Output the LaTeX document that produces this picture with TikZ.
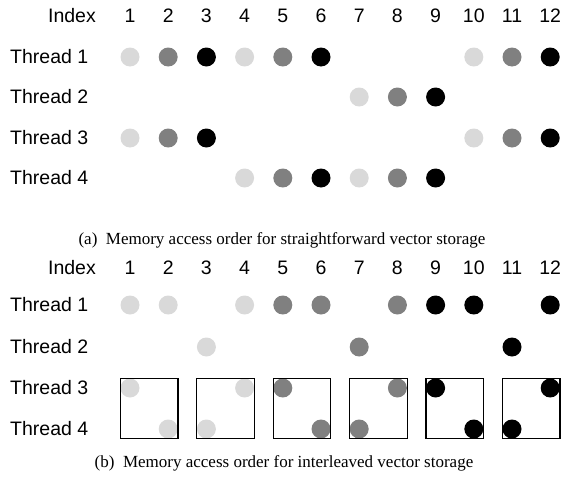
\documentclass[tikz,border=0pt]{standalone}
\usepackage{fontspec}
\setmainfont{Liberation Serif}
\newfontfamily\labelfont{Liberation Sans}
\usetikzlibrary{fit}

\begin{document}
\begin{tikzpicture}[x=1pt, y=-1pt, every node/.style={inner sep=0pt},
		dot/.style={circle, minimum size=19pt},
		light/.style={dot, fill=black!15},
		mid/.style={dot, fill=black!50},
		dark/.style={dot, fill=black},
		lbl/.style={font=\labelfont\fontsize{19.5}{20}\selectfont},
		captext/.style={font=\fontsize{17}{20}\selectfont},
		pairbox/.style={draw, line width=1.2pt, inner sep=0pt}]
			\useasboundingbox (0,0) rectangle (563,482);

			% (a) straightforward storage
			\node[lbl, anchor=east] (aidx) at (96,16) {Index};
			\node[lbl] (ai1) at (130,16) {1};
			\node[lbl] (ai2) at (168.2,16) {2};
			\node[lbl] (ai3) at (206.4,16) {3};
			\node[lbl] (ai4) at (244.6,16) {4};
			\node[lbl] (ai5) at (282.8,16) {5};
			\node[lbl] (ai6) at (321,16) {6};
			\node[lbl] (ai7) at (359.2,16) {7};
			\node[lbl] (ai8) at (397.4,16) {8};
			\node[lbl] (ai9) at (435.6,16) {9};
			\node[lbl] (ai10) at (473.8,16) {10};
			\node[lbl] (ai11) at (512,16) {11};
			\node[lbl] (ai12) at (550.2,16) {12};

			\node[lbl, anchor=west] (at1) at (10,57) {Thread 1};
			\node[lbl, anchor=west] (at2) at (10,97) {Thread 2};
			\node[lbl, anchor=west] (at3) at (10,138) {Thread 3};
			\node[lbl, anchor=west] (at4) at (10,178) {Thread 4};

			\node[light] (a-1-1) at (130,57) {};
			\node[mid] (a-1-2) at (168.2,57) {};
			\node[dark] (a-1-3) at (206.4,57) {};
			\node[light] (a-1-4) at (244.6,57) {};
			\node[mid] (a-1-5) at (282.8,57) {};
			\node[dark] (a-1-6) at (321,57) {};
			\node[light] (a-1-10) at (473.8,57) {};
			\node[mid] (a-1-11) at (512,57) {};
			\node[dark] (a-1-12) at (550.2,57) {};

			\node[light] (a-2-7) at (359.2,97) {};
			\node[mid] (a-2-8) at (397.4,97) {};
			\node[dark] (a-2-9) at (435.6,97) {};

			\node[light] (a-3-1) at (130,138) {};
			\node[mid] (a-3-2) at (168.2,138) {};
			\node[dark] (a-3-3) at (206.4,138) {};
			\node[light] (a-3-10) at (473.8,138) {};
			\node[mid] (a-3-11) at (512,138) {};
			\node[dark] (a-3-12) at (550.2,138) {};

			\node[light] (a-4-4) at (244.6,178) {};
			\node[mid] (a-4-5) at (282.8,178) {};
			\node[dark] (a-4-6) at (321,178) {};
			\node[light] (a-4-7) at (359.2,178) {};
			\node[mid] (a-4-8) at (397.4,178) {};
			\node[dark] (a-4-9) at (435.6,178) {};

			\node[captext] (capa) at (282,240) {(a)\enspace Memory access order for straightforward vector storage};

			% (b) interleaved storage
			\node[lbl, anchor=east] (bidx) at (96,268) {Index};
			\node[lbl] (bi1) at (130,268) {1};
			\node[lbl] (bi2) at (168.2,268) {2};
			\node[lbl] (bi3) at (206.4,268) {3};
			\node[lbl] (bi4) at (244.6,268) {4};
			\node[lbl] (bi5) at (282.8,268) {5};
			\node[lbl] (bi6) at (321,268) {6};
			\node[lbl] (bi7) at (359.2,268) {7};
			\node[lbl] (bi8) at (397.4,268) {8};
			\node[lbl] (bi9) at (435.6,268) {9};
			\node[lbl] (bi10) at (473.8,268) {10};
			\node[lbl] (bi11) at (512,268) {11};
			\node[lbl] (bi12) at (550.2,268) {12};

			\node[lbl, anchor=west] (bt1) at (10,305) {Thread 1};
			\node[lbl, anchor=west] (bt2) at (10,347) {Thread 2};
			\node[lbl, anchor=west] (bt3) at (10,388) {Thread 3};
			\node[lbl, anchor=west] (bt4) at (10,429) {Thread 4};

			\node[light] (b-1-1) at (130,305) {};
			\node[light] (b-1-2) at (168.2,305) {};
			\node[light] (b-1-4) at (244.6,305) {};
			\node[mid] (b-1-5) at (282.8,305) {};
			\node[mid] (b-1-6) at (321,305) {};
			\node[mid] (b-1-8) at (397.4,305) {};
			\node[dark] (b-1-9) at (435.6,305) {};
			\node[dark] (b-1-10) at (473.8,305) {};
			\node[dark] (b-1-12) at (550.2,305) {};

			\node[light] (b-2-3) at (206.4,347) {};
			\node[mid] (b-2-7) at (359.2,347) {};
			\node[dark] (b-2-11) at (512,347) {};

			\node[light] (b-3-1) at (130,388) {};
			\node[light] (b-3-4) at (244.6,388) {};
			\node[mid] (b-3-5) at (282.8,388) {};
			\node[mid] (b-3-8) at (397.4,388) {};
			\node[dark] (b-3-9) at (435.6,388) {};
			\node[dark] (b-3-12) at (550.2,388) {};

			\node[light] (b-4-2) at (168.2,429) {};
			\node[light] (b-4-3) at (206.4,429) {};
			\node[mid] (b-4-6) at (321,429) {};
			\node[mid] (b-4-7) at (359.2,429) {};
			\node[dark] (b-4-10) at (473.8,429) {};
			\node[dark] (b-4-11) at (512,429) {};

			\node[pairbox, fit=(b-3-1)(b-4-2)] (box1) {};
			\node[pairbox, fit=(b-3-4)(b-4-3)] (box2) {};
			\node[pairbox, fit=(b-3-5)(b-4-6)] (box3) {};
			\node[pairbox, fit=(b-3-8)(b-4-7)] (box4) {};
			\node[pairbox, fit=(b-3-9)(b-4-10)] (box5) {};
			\node[pairbox, fit=(b-3-12)(b-4-11)] (box6) {};

			\node[captext] (capb) at (284,463) {(b)\enspace Memory access order for interleaved vector storage};
		\end{tikzpicture}
\end{document}
